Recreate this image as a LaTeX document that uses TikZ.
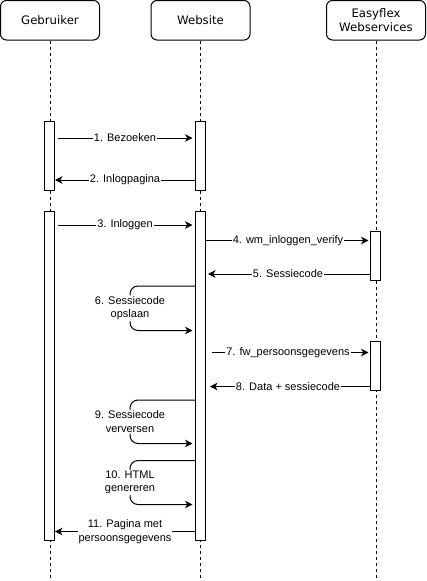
\documentclass[tikz,border=0pt]{standalone}
\usepackage{fontspec}
\setmainfont{Liberation Sans}
\newfontfamily\headfont{DejaVu Sans}
\usetikzlibrary{arrows.meta}
\begin{document}
\begin{tikzpicture}[x=1pt,y=-1pt,
  every node/.style={font=\fontsize{11}{13.5}\selectfont},
  head/.style={draw, line width=1pt, rounded corners=6pt, minimum width=99pt, minimum height=39.5pt, font=\headfont\fontsize{11.7}{14}\selectfont, align=center, fill=white, inner sep=0pt},
  life/.style={line width=0.9pt, dash pattern=on 3pt off 3pt},
  act/.style={draw, fill=white, line width=1pt, minimum width=10pt, inner sep=0pt},
  msg/.style={line width=1pt, -{Stealth[length=7.5pt,width=7.5pt,inset=2.2pt]}},
  lbl/.style={fill=white, inner sep=1pt, align=center},
]
\useasboundingbox (0,0) rectangle (426,581);

% headers
\node[head] (g) at (50,20.25) {Gebruiker};
\node[head] (w) at (200.5,20.25) {Website};
\node[head] (e) at (376,20.25) {Easyflex\\Webservices};

% lifelines
\coordinate (gEnd) at (50,581);
\coordinate (wEnd) at (200.5,581);
\coordinate (eEnd) at (376,581);
\draw[life] (g.south) -- (gEnd);
\draw[life] (w.south) -- (wEnd);
\draw[life] (e.south) -- (eEnd);

% activations
\node[act, minimum height=69.5pt] (ga1) at (49.5,155.75) {};
\node[act, minimum height=69.5pt] (wa1) at (200.5,155.75) {};
\node[act, minimum height=329.5pt] (ga2) at (49.5,375.75) {};
\node[act, minimum height=329.5pt] (wa2) at (200.5,375.75) {};
\node[act, minimum height=49.5pt] (ea1) at (375.5,255.75) {};
\node[act, minimum height=49.5pt] (ea2) at (375.5,365.75) {};

% messages
\draw[msg, shorten <=3pt, shorten >=2.5pt] (ga1.east |- 0,138) -- node[lbl]{1. Bezoeken} (wa1.west |- 0,138);
\draw[msg] (wa1.west |- 0,180) -- node[lbl]{2. Inlogpagina} (ga1.east |- 0,180);
\draw[msg, shorten <=3pt, shorten >=2.5pt] (ga2.east |- 0,225) -- node[lbl]{3. Inloggen} (wa2.west |- 0,225);
\draw[msg, shorten >=1.5pt] (wa2.east |- 0,240.5) -- node[lbl]{4. wm\_inloggen\_verify} (ea1.west |- 0,240.5);
\draw[msg, shorten >=2pt] (ea1.west |- 0,274) -- node[lbl]{5. Sessiecode} (wa2.east |- 0,274);
\draw[msg, rounded corners=8pt, shorten >=2.5pt] (wa2.west |- 0,286) -- (130,286) -- node[lbl]{6. Sessiecode\\opslaan} (130,330.5) -- (wa2.west |- 0,330.5);
\draw[msg, shorten <=6pt, shorten >=1.5pt] (wa2.east |- 0,352.5) -- node[lbl]{7. fw\_persoonsgegevens} (ea2.west |- 0,352.5);
\draw[msg, shorten >=4pt] (ea2.west |- 0,386.5) -- node[lbl]{8. Data + sessiecode} (wa2.east |- 0,386.5);
\draw[msg, rounded corners=8pt, shorten >=2.5pt] (wa2.west |- 0,400) -- (130,400) -- node[lbl]{9. Sessiecode\\verversen} (130,443.5) -- (wa2.west |- 0,443.5);
\draw[msg, rounded corners=8pt, shorten >=2.5pt] (wa2.west |- 0,460.5) -- (130,460.5) -- node[lbl]{10. HTML\\genereren} (130,504.5) -- (wa2.west |- 0,504.5);
\draw[msg] (wa2.west |- 0,531.5) -- node[lbl]{11. Pagina met\\persoonsgegevens} (ga2.east |- 0,531.5);
\end{tikzpicture}
\end{document}
